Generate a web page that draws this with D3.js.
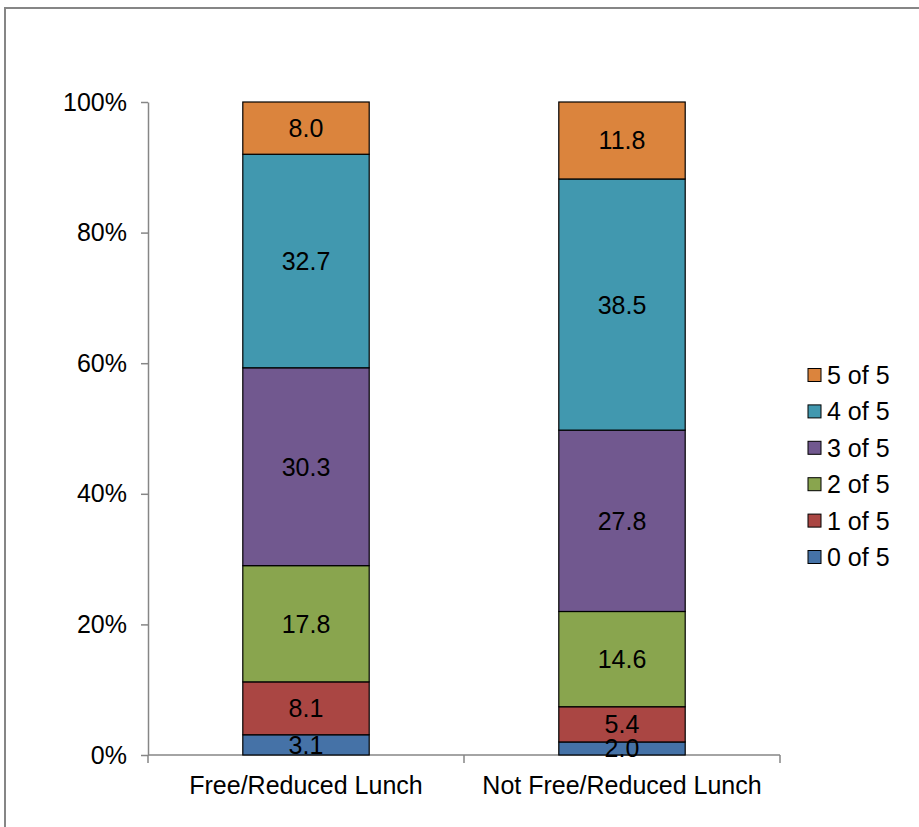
<!DOCTYPE html>
<html>
<head>
<meta charset="utf-8">
<script src="https://cdn.jsdelivr.net/npm/d3@7"></script>
<style>
  html, body { margin: 0; padding: 0; background: #fff; }
  svg { display: block; font-family: "Liberation Sans", Arial, sans-serif; }
</style>
</head>
<body>
<svg id="chart" width="919" height="827"></svg>
<script>
// Share of students by number of criteria met (percent), per lunch status
const categories = ["Free/Reduced Lunch", "Not Free/Reduced Lunch"];
const seriesNames = ["0 of 5", "1 of 5", "2 of 5", "3 of 5", "4 of 5", "5 of 5"];
const freeReduced = [3.1, 8.1, 17.8, 30.3, 32.7, 8.0];
const notFreeReduced = [2.0, 5.4, 14.6, 27.8, 38.5, 11.8];
const colors = ["#4572A7", "#AA4643", "#89A54E", "#71588F", "#4198AF", "#DB843D"];
const yTicks = [0, 0.2, 0.4, 0.6, 0.8, 1.0];

const rows = categories.map((c, i) => {
  const vals = i === 0 ? freeReduced : notFreeReduced;
  const r = { category: c };
  seriesNames.forEach((s, j) => { r[s] = vals[j]; });
  return r;
});

const svg = d3.select("#chart");
const W = 919, H = 827;
const plot = { left: 148, right: 780, top: 102, bottom: 755 };
const axisColor = "#868686";
const fontSize = "25px";

// outer frame
svg.append("rect")
  .attr("x", 5).attr("y", 8)
  .attr("width", W + 10).attr("height", H + 10)
  .attr("fill", "#fff")
  .attr("stroke", axisColor).attr("stroke-width", 2);

const x = d3.scaleBand().domain(categories).range([plot.left, plot.right]).padding(0);
const y = d3.scaleLinear().domain([0, 1]).range([plot.bottom, plot.top]);
const barW = x.bandwidth() * 0.4;

const stacked = d3.stack().keys(seriesNames).offset(d3.stackOffsetExpand)(rows);

// y axis
const yAxis = svg.append("g")
  .attr("transform", `translate(${plot.left},0)`)
  .call(d3.axisLeft(y).tickValues(yTicks).tickFormat(d3.format(".0%"))
    .tickSize(7).tickSizeOuter(0).tickPadding(14));
yAxis.select(".domain").attr("stroke", axisColor).attr("stroke-width", 1.5);
yAxis.selectAll(".tick line").attr("stroke", axisColor).attr("stroke-width", 1.5);
yAxis.selectAll(".tick text").attr("fill", "#000").style("font-size", fontSize)
  .attr("font-family", "Liberation Sans, Arial, sans-serif");

// x axis line with ticks on category boundaries
svg.append("line")
  .attr("x1", plot.left).attr("x2", plot.right)
  .attr("y1", plot.bottom).attr("y2", plot.bottom)
  .attr("stroke", axisColor).attr("stroke-width", 1.5);
const bounds = categories.map(c => x(c)).concat([x(categories[categories.length - 1]) + x.bandwidth()]);
svg.selectAll(".xtick").data(bounds).enter().append("line")
  .attr("x1", d => d).attr("x2", d => d)
  .attr("y1", plot.bottom).attr("y2", plot.bottom + 8)
  .attr("stroke", axisColor).attr("stroke-width", 1.5);
svg.selectAll(".xlabel").data(categories).enter().append("text")
  .attr("x", d => x(d) + x.bandwidth() / 2)
  .attr("y", 794)
  .attr("text-anchor", "middle")
  .style("font-size", fontSize)
  .attr("fill", "#000")
  .text(d => d);

// stacked bars
const layers = svg.selectAll(".layer").data(stacked).enter().append("g")
  .attr("fill", (d, i) => colors[i]);
layers.selectAll("rect").data(d => d).enter().append("rect")
  .attr("x", d => x(d.data.category) + (x.bandwidth() - barW) / 2)
  .attr("width", barW)
  .attr("y", d => y(d[1]))
  .attr("height", d => y(d[0]) - y(d[1]))
  .attr("stroke", "#000").attr("stroke-width", 1.2);

// value labels
stacked.forEach(layer => {
  svg.selectAll(null).data(layer).enter().append("text")
    .attr("x", d => x(d.data.category) + x.bandwidth() / 2)
    .attr("y", d => (y(d[0]) + y(d[1])) / 2)
    .attr("dy", "0.36em")
    .attr("text-anchor", "middle")
    .style("font-size", fontSize)
    .attr("fill", "#000")
    .text(d => d.data[layer.key].toFixed(1));
});

// legend (top entry is the last series)
const legend = svg.append("g");
const legendItems = seriesNames.slice().reverse();
legendItems.forEach((name, i) => {
  const cy = 375 + i * 36.4;
  const ci = seriesNames.indexOf(name);
  legend.append("rect")
    .attr("x", 808).attr("y", cy - 6.5)
    .attr("width", 13).attr("height", 13)
    .attr("fill", colors[ci])
    .attr("stroke", "#000").attr("stroke-width", 1);
  legend.append("text")
    .attr("x", 827).attr("y", cy)
    .attr("dy", "0.36em")
    .style("font-size", fontSize)
    .attr("fill", "#000")
    .text(name);
});
</script>
</body>
</html>
